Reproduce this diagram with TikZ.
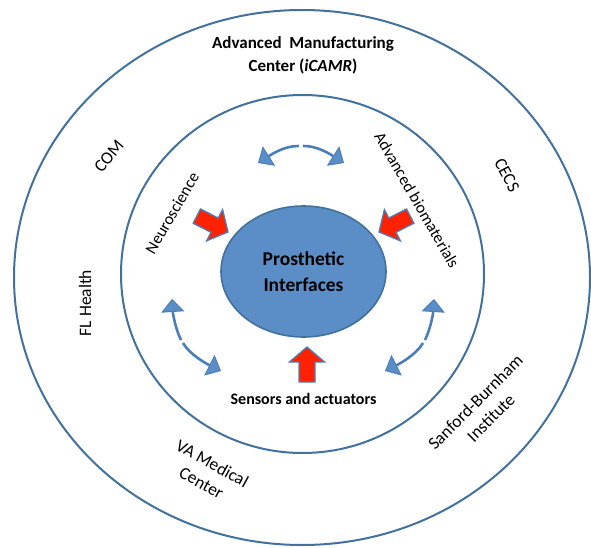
\documentclass[tikz,border=0pt]{standalone}
\usepackage{fontspec}
\setmainfont{Carlito}
\usetikzlibrary{arrows.meta,shapes.geometric}
\definecolor{ringblue}{HTML}{41719C}
\definecolor{fillblue}{HTML}{5B8EC6}
\definecolor{shaftblue}{HTML}{4A7EBB}
\definecolor{pushred}{HTML}{FF2200}
\def\blockarrow(#1)(#2:#3){\draw[pusharrow, shift={(#1)}, rotate=#2] (0,0) -- (-15,17.5) -- (-15,8) -- (-#3,8) -- (-#3,-8) -- (-15,-8) -- (-15,-17.5) -- cycle;}

\begin{document}
\begin{tikzpicture}[x=1pt, y=-1pt,
		ring/.style={draw=ringblue, line width=2pt},
		core/.style={ellipse, draw=ringblue, line width=1.6pt, fill=fillblue, minimum width=165pt, minimum height=131pt, align=center, font=\fontsize{19.5}{26}\selectfont\bfseries},
		pusharrow/.style={fill=pushred, draw=shaftblue, line width=1.3pt, line join=miter},
		link/.style={draw=shaftblue, line width=2.6pt, -{Triangle[length=13pt, width=23pt, fill=fillblue, line width=1pt]}},
		headtext/.style={align=center, font=\fontsize{17}{23}\selectfont\bfseries},
		ringtext/.style={align=center, font=\fontsize{17.5}{22}\selectfont},
		fieldtext/.style={font=\fontsize{16.5}{20}\selectfont}]
			%%%%% START %%%%%
			
			\useasboundingbox (0,0) rectangle (591,548);
			
			\draw[ring] (302,277.5) ellipse (288 and 267.5);
			\draw[ring] (302.5,274) ellipse (181.5 and 179);
			
			\node[core] (core) at (303.5,271.5) {Prosthetic\\Interfaces};
			
			% partners on the outer ring
			\node[headtext] (amc) at (303,55.5) {Advanced~ Manufacturing\\Center (\textit{iCAMR})};
			\node[ringtext, rotate=50] (com) at (109,156) {COM};
			\node[ringtext, rotate=-62] (cecs) at (507,175) {CECS};
			\node[ringtext, rotate=90] (flh) at (85,303) {FL Health};
			\node[ringtext, rotate=-29] (va) at (207,473) {VA Medical\\Center};
			\node[ringtext, rotate=45] (sbi) at (483,410) {Sanford-Burnham\\Institute};
			
			% fields on the inner ring
			\node[fieldtext, rotate=60] (neuro) at (172,213) {Neuroscience};
			\node[fieldtext, rotate=-60] (biomat) at (417,200) {Advanced biomaterials};
			\node[headtext, font=\fontsize{16}{20}\selectfont\bfseries] (sens) at (303.5,399) {Sensors and actuators};
			
			\blockarrow(228,232)(-27:35)
			\blockarrow(379,232)(-153:35)
			\blockarrow(307,347)(90:35)
			
			% two-way links between the fields
			\coordinate (tl) at (258,163);
			\coordinate (tr) at (344,163);
			\coordinate (lt) at (172,299);
			\coordinate (lb) at (221,371);
			\coordinate (rt) at (434,299);
			\coordinate (rb) at (385,371);
			
			\draw[link] (299,146) .. controls (284,145.5) and (269,156) .. (tl);
			\draw[link] (303,146) .. controls (318,145.5) and (333,156) .. (tr);
			
			\draw[link] (181,340) .. controls (176,330) and (173,315) .. (lt);
			\draw[link] (183,343) .. controls (190,355) and (207,364) .. (lb);
			
			\draw[link] (425,340) .. controls (430,330) and (433,315) .. (rt);
			\draw[link] (423,343) .. controls (416,355) and (399,364) .. (rb);
			
			%%%%% END %%%%%
		\end{tikzpicture}
\end{document}
